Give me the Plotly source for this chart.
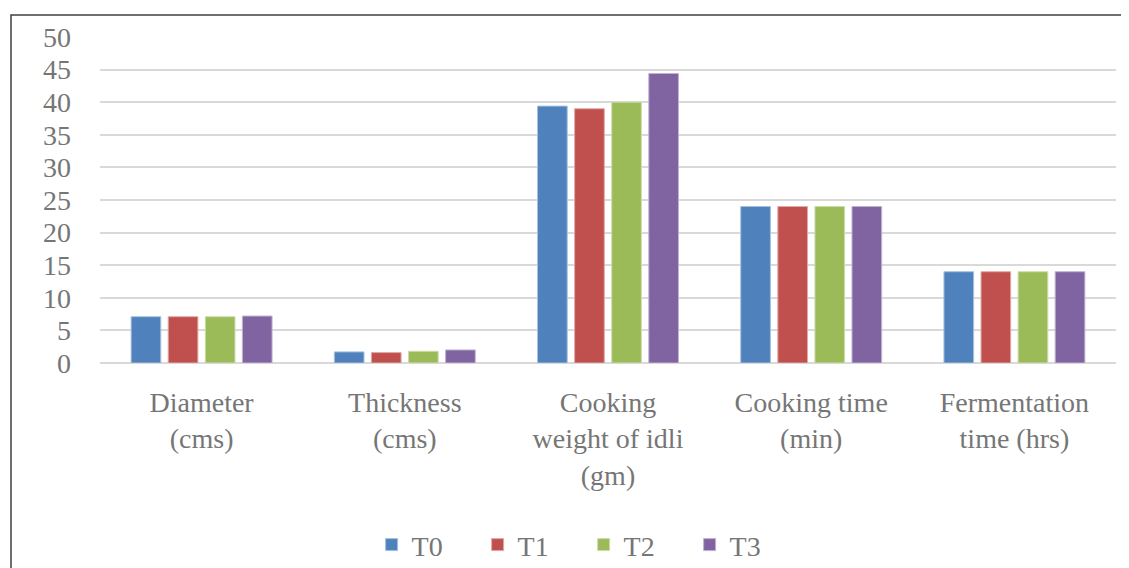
import plotly.graph_objects as go

categories = ["Diameter<br>(cms)", "Thickness<br>(cms)", "Cooking<br>weight of idli<br>(gm)",
              "Cooking time<br>(min)", "Fermentation<br>time (hrs)"]
series_names = ["T0", "T1", "T2", "T3"]
t0 = [7.1, 1.7, 39.4, 24, 14]
t1 = [7.1, 1.6, 39.0, 24, 14]
t2 = [7.1, 1.8, 40.0, 24, 14]
t3 = [7.2, 2.0, 44.4, 24, 14]
colors = ["#4f81bd", "#c0504d", "#9bbb59", "#8064a2"]
outline = ["#a7c0de", "#e0a8a6", "#cddcac", "#bfb1d0"]
y_ticks = [0, 5, 10, 15, 20, 25, 30, 35, 40, 45, 50]

font_family = "Liberation Serif"
text_color = "#767676"
fs = 28

fig = go.Figure()
for name, vals, c, oc in zip(series_names, [t0, t1, t2, t3], colors, outline):
    fig.add_trace(go.Bar(x=categories, y=vals, name=name,
                         marker=dict(color=c, line=dict(color=oc, width=1))))

fig.update_layout(
    width=1129, height=568,
    margin=dict(l=92, r=21, t=29, b=213, autoexpand=False),
    paper_bgcolor="white", plot_bgcolor="white",
    barmode="group", bargap=0.27, bargroupgap=0.2,
    font=dict(family=font_family, size=fs, color=text_color),
    legend=dict(orientation="h", x=0.476, xanchor="center", y=-0.558, yanchor="middle",
                font=dict(size=fs, color=text_color), itemwidth=30, entrywidth=61,
                traceorder="normal"),
    xaxis=dict(showgrid=False, showline=False, ticks="", tickfont=dict(size=fs),
               ticklabelstandoff=20, automargin=False),
    yaxis=dict(range=[0, 50], tickvals=y_ticks, showgrid=True, gridcolor="#d9d9d9",
               gridwidth=1.5, zeroline=True, zerolinecolor="#d9d9d9", zerolinewidth=1.5,
               showline=False, ticks="", tickfont=dict(size=fs), ticklabelstandoff=28,
               automargin=False),
    shapes=[dict(type="rect", xref="paper", yref="paper",
                 x0=(3 - 92) / 1016, x1=(1140 - 92) / 1016,
                 y0=-0.8, y1=1 + (29 - 7) / 326,
                 line=dict(color="#404040", width=1.5), layer="below")],
)

fig.write_html("out.html")
